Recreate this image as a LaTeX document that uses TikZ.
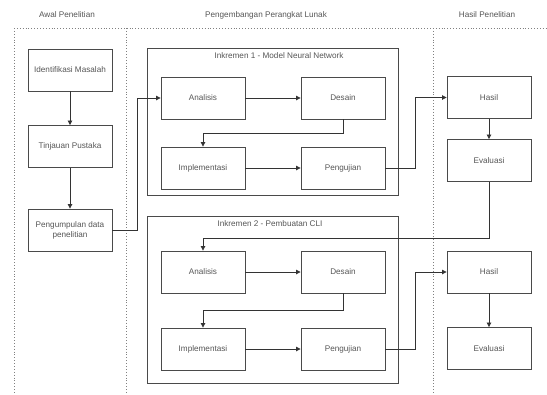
\documentclass[tikz,border=0pt]{standalone}
\usepackage{fontspec}
\setmainfont{Liberation Sans}
\usetikzlibrary{arrows.meta}
\definecolor{linec}{HTML}{333333}
\definecolor{boxc}{HTML}{4A4A4A}
\definecolor{txtc}{HTML}{555555}
\definecolor{dotc}{HTML}{808080}
\tikzset{
  stepbox/.style={draw=boxc, line width=0.9pt, minimum width=84bp, minimum height=42bp, inner sep=1pt, align=center, text=txtc, font=\fontsize{8.2}{10}\selectfont},
  frame/.style={draw=boxc, line width=0.9pt},
  arr/.style={draw=linec, line width=0.8pt, -{Triangle[width=4.5pt,length=4.5pt]}},
  lane/.style={draw=dotc, line width=0.9pt, dotted},
  hdr/.style={text=txtc, font=\fontsize{8.2}{10}\selectfont, inner sep=0pt},
  ttl/.style={text=txtc, font=\fontsize{8.2}{10}\selectfont, inner sep=0pt}
}
\begin{document}
\begin{tikzpicture}[x=1bp,y=-1bp]
\useasboundingbox (0,0) rectangle (547,394);
% lanes
\draw[lane] (14,28) -- (547,28);
\draw[lane] (14,28) -- (14,394);
\draw[lane] (126,28) -- (126,394);
\draw[lane] (433,28) -- (433,394);
\node[hdr] (h_awal) at (67,15) {Awal Penelitian};
\node[hdr] (h_peng) at (266,15) {Pengembangan Perangkat Lunak};
\node[hdr] (h_hasil) at (487,15) {Hasil Penelitian};
% frames
\draw[frame] (147,48) rectangle (398,195);
\draw[frame] (147,216) rectangle (398,383);
\node[ttl] (t1) at (279,56) {Inkremen 1 - Model Neural Network};
\node[ttl] (t2) at (270,224) {Inkremen 2 - Pembuatan CLI};
% left column
\node[stepbox] (p1) at (70,70) {Identifikasi Masalah};
\node[stepbox] (p2) at (70,146.5) {Tinjauan Pustaka};
\node[stepbox] (p3) at (70,230) {Pengumpulan data\\penelitian};
% increment 1
\node[stepbox] (a1) at (203,98) {Analisis};
\node[stepbox] (d1) at (343,98) {Desain};
\node[stepbox] (i1) at (203,168) {Implementasi};
\node[stepbox] (u1) at (343,168) {Pengujian};
% increment 2
\node[stepbox] (a2) at (203,272) {Analisis};
\node[stepbox] (d2) at (343,272) {Desain};
\node[stepbox] (i2) at (203,349) {Implementasi};
\node[stepbox] (u2) at (343,349) {Pengujian};
% results
\node[stepbox] (r1) at (489,97.5) {Hasil};
\node[stepbox] (e1) at (489,160.5) {Evaluasi};
\node[stepbox] (r2) at (489,272) {Hasil};
\node[stepbox] (e2) at (489,348.5) {Evaluasi};
% connectors
\draw[arr] (p1) -- (p2);
\draw[arr] (p2) -- (p3);
\draw[arr] (p3.east) -- ++(25,0) |- (a1.west);
\draw[arr] (a1) -- (d1);
\draw[arr] (d1.south) -- ++(0,14) -| (i1.north);
\draw[arr] (i1) -- (u1);
\draw[arr] (u1.east) -- ++(30,0) |- (r1.west);
\draw[arr] (r1) -- (e1);
\draw[arr] (e1.south) -- ++(0,56.5) -| (a2.north);
\draw[arr] (a2) -- (d2);
\draw[arr] (d2.south) -- ++(0,17) -| (i2.north);
\draw[arr] (i2) -- (u2);
\draw[arr] (u2.east) -- ++(30,0) |- (r2.west);
\draw[arr] (r2) -- (e2);
\end{tikzpicture}
\end{document}
